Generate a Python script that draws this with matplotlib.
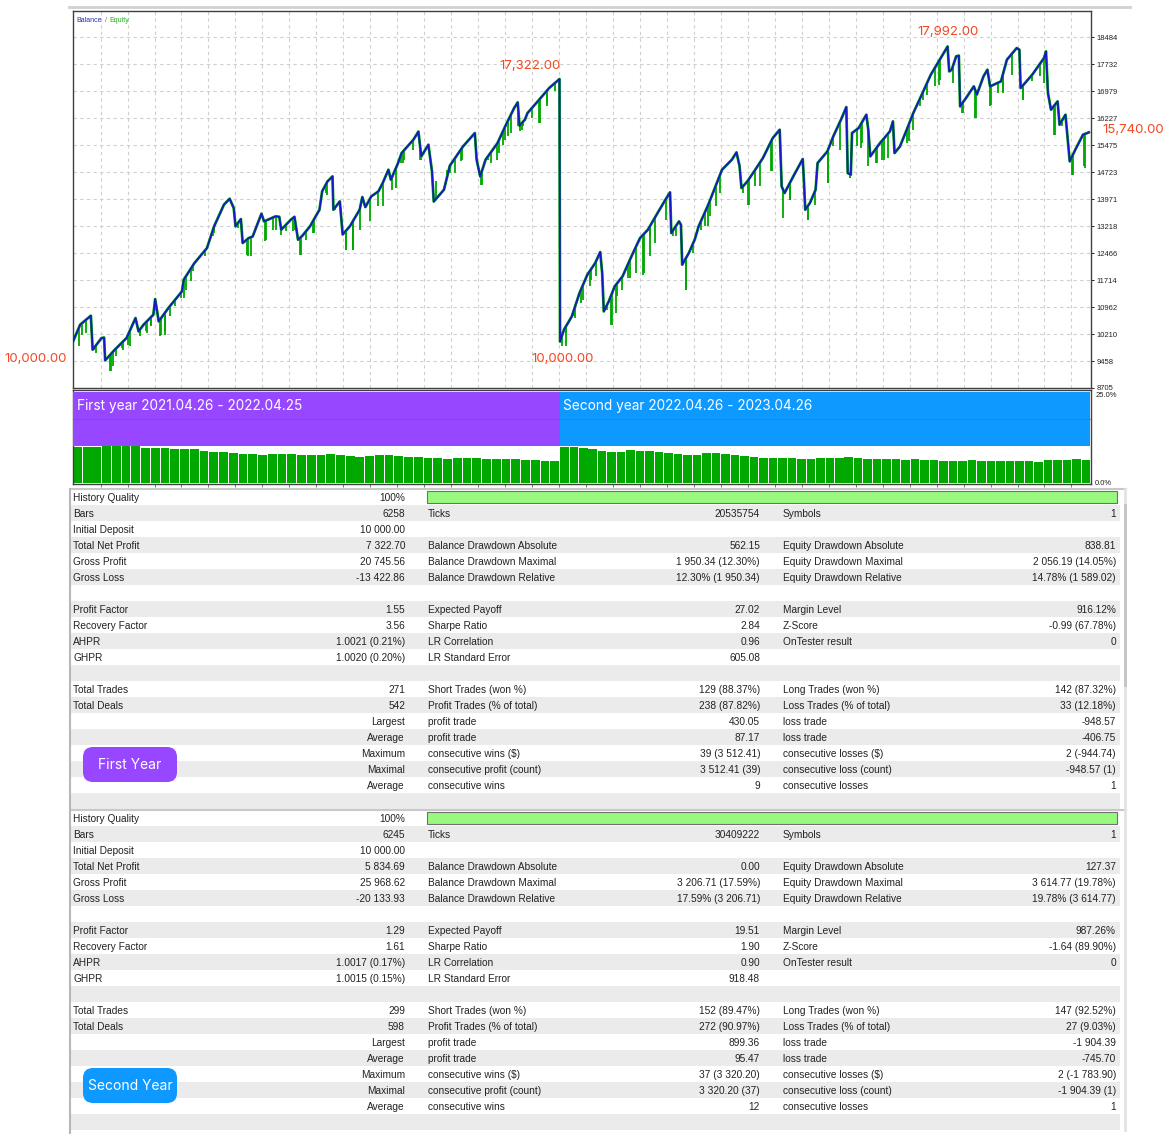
import numpy as np
import matplotlib.pyplot as plt
from matplotlib.patches import Rectangle, FancyBboxPatch

W, H = 1172, 1138

# balance curve: x = trade number, y = balance
bal_t = [0, 4, 8.5, 10, 11, 16, 17.4, 18, 23.4, 30, 35, 36.7, 39.5, 45, 46, 48, 53.4, 61, 62, 68,
         75, 79, 84.5, 87.7, 90, 91, 94, 95, 98.4, 100.6, 105.5, 107, 113.4, 115.5, 116.6, 122, 124,
         126, 128.4, 132.7, 138, 139.5, 142.5, 145.3, 145.8, 149.4, 151, 155, 160.5, 162, 163.7, 167,
         171, 173.4, 176.6, 178, 182, 184, 190.6, 193.4, 195, 199, 201, 202, 207.7, 211, 218.4, 225,
         226, 228, 231, 237.7, 242, 247, 249, 250, 253, 254.5, 261, 266.6, 272.4,
         272.7, 274.9, 279.3, 283.6, 288, 292.4, 295.2, 296.3, 297.2, 300, 303.3, 307.7, 313.1, 317.5,
         321.9, 327.3, 331.7, 334.3, 335, 339.3, 340.4, 341.1, 344.8, 348.1, 350.3, 355.7, 359, 363.4,
         368.9, 371.5, 373.2, 374.3, 377.6, 382, 386.3, 391.8, 395.7, 396.8, 398.4, 403.8, 408.6, 409.3,
         410, 412.6, 415.8, 416.9, 422.4, 425.7, 430, 433, 433.8, 435.5, 436.2, 439.9, 444.2, 445.3,
         446.4, 451.9, 457.4, 459.1, 460, 463, 467.2, 470.5, 474.8, 480.3, 486.9, 489.7, 490.6, 492,
         494.5, 496, 496.7, 500, 504.4, 506.1, 509.8, 512, 513.5, 519.6, 522.9, 528.4, 529.9, 530.6,
         537.1, 543.7, 544.8, 545.9, 547.6, 551.3, 552.4, 555.7, 556.8, 558.1, 561.2, 565.5, 568.8]
bal_v = [10000, 10470, 10656, 10721, 9773, 10100, 10110, 9475, 9773, 10100, 10656, 10284, 10470, 10749,
         11186, 10563, 10935, 11400, 11725, 12190, 12608, 13213, 13817, 13984, 13724, 13213, 13417, 12748,
         12887, 12930, 13566, 13352, 13492, 13480, 13120, 13399, 13480, 12841, 12950, 13213, 13678, 14189,
         14467, 14607, 13678, 13910, 12987, 13213, 13678, 14031, 13750, 14049, 14189, 14421, 14793, 14514,
         14979, 15258, 15630, 15856, 15165, 15490, 14747, 13906, 14235, 14905, 15444, 15816, 15072, 14607,
         15072, 15537, 16002, 16513, 16671, 16020, 16188, 16374, 16745, 17071, 17322,
         10000, 10331, 10702, 11353, 11865, 12190, 12497, 11911, 10842, 11121, 11539, 11818, 12422, 12887,
         13120, 13585, 13956, 14161, 13027, 13352, 13260, 12144, 12469, 12841, 13213, 13817, 14235, 14793,
         15072, 15277, 14900, 14282, 14468, 14793, 15119, 15676, 15909, 14328, 14142, 14654, 15091, 14440,
         13677, 13863, 14235, 14979, 15305, 15723, 16188, 16541, 14700, 14654, 15816, 15955, 16327, 15909,
         15165, 15537, 15862, 16141, 15258, 15440, 15955, 16374, 16838, 17443, 17999, 18230, 17536, 17580,
         17955, 17975, 16560, 16792, 17118, 16890, 17397, 17583, 17118, 17257, 17861, 18186, 18140, 17071,
         17443, 17908, 18093, 16931, 16467, 16699, 16048, 16327, 15723, 15026, 15351, 15769, 15835]

# lowest equity at the drawdown spikes
dip_t = [3.1, 5.2, 7.3, 12.1, 12.7, 20.6, 21.5, 22.3, 24.3, 27.7, 28, 30.8, 32, 37.3, 37.4, 40.7, 41.2,
         43.8, 43.9, 48.9, 49.1, 51.3, 51.7, 54.1, 56.9, 60.7, 62.4, 63.5, 66.3, 67.3, 73.7, 78.4, 79.1,
         83.1, 90.9, 92.4, 97.3, 98, 99.9, 107.6, 108.2, 112, 113.4, 116.6, 119.4, 123.2, 124.5, 127.3,
         127.5, 130.6, 134.4, 134.8, 139, 141.8, 142.3, 146.5, 149.8, 152.6, 152.7, 156.7, 156.8, 160.5,
         166.1, 170.8, 173.4, 178.8, 181, 183.7, 184.8, 185.4, 190.5, 194.3, 194.8, 200.8, 203.4, 203.6,
         209.2, 211.3, 212.9, 214.1, 217.3, 217.6, 228.7, 228.8, 232.6, 234, 237.2, 238.3, 241, 242,
         243.8, 245.2, 249.4, 250.1, 251.6, 252.2, 256.9, 261.2, 261.5, 265.3, 265.5, 269.9,
         273.6, 276, 276.3, 280.3, 281, 284.7, 285.8, 289.4, 290.2, 293.1, 297.2, 298.9, 301.5, 301.8,
         304.3, 304.4, 307.6, 311, 311.7, 315.4, 319.3, 319.7, 322.9, 323, 325.7, 332.2, 336.1, 337.8,
         343.1, 343.4, 347.1, 351.4, 353.6, 355.7, 356.5, 360.1, 362.1, 375.3, 378.1, 378.7, 382, 384.7,
         390.7, 391.2, 397.3, 401.4, 401.6, 411.5, 411.7, 415.4, 422.8, 422.9, 425.7, 429.4, 434.8, 435,
         438.8, 441, 441.6, 445.3, 449.7, 450, 452.8, 454.1, 456.5, 460.6, 461.2, 466.8, 468.3, 470.5,
         474.3, 475.9, 478, 482.7, 484.7, 485.5, 493, 497.8, 498.6, 505.1, 505.4, 513.5, 514.2, 518.2,
         520.7, 521, 525.7, 531.7, 532.2, 536.9, 541.6, 543.7, 549.1, 550, 553.8, 559.4, 559.8, 565.9,
         566.6]
dip_v = [9866, 10192, 10237, 9775, 9680, 9168, 9170, 9308, 9590, 9820, 9776, 9915, 9866, 10194, 10144,
         10286, 10237, 10424, 10472, 10147, 10190, 10286, 10190, 10704, 10983, 11215, 11214, 11447, 11680,
         11957, 12377, 12935, 13027, 13585, 13399, 13167, 12422, 12377, 12376, 12794, 12842, 13121, 13120,
         12980, 13074, 13074, 13120, 12422, 12423, 12841, 13028, 13027, 13864, 14143, 14096, 13678, 13399,
         12562, 12563, 12562, 12563, 13120, 13352, 13772, 13770, 14235, 14282, 14980, 14980, 15072, 15352,
         15073, 15072, 14562, 14468, 14050, 14794, 14700, 14980, 14700, 15026, 15073, 14375, 14376, 15073,
         14979, 15073, 15258, 15492, 15630, 15724, 15816, 16002, 15862, 15909, 16002, 16235, 16095, 16095,
         16653, 16560, 16978,
         9866, 9866, 10238, 10702, 10656, 11074, 11167, 11539, 11725, 11818, 10842, 10888, 10470, 10470,
         10795, 11260, 11446, 11772, 11772, 11911, 11865, 11911, 12376, 12934, 12748, 13399, 12934, 12934,
         11446, 11446, 12469, 13120, 13213, 13213, 13492, 13771, 14143, 14143, 13817, 13817, 14328, 14329,
         14747, 14747, 13445, 13957, 13956, 13399, 13399, 13817, 14421, 14422, 15444, 15352, 14561, 14561,
         15445, 15397, 15538, 14886, 14979, 14980, 15073, 15072, 15119, 15305, 15352, 15538, 15584, 15910,
         16560, 16745, 16885, 17118, 17164, 17304, 17211, 16374, 16374, 16234, 16234, 16560, 16606, 16932,
         16978, 16932, 17443, 16745, 16746, 17257, 17397, 17210, 15769, 15770, 16002, 14654, 14654, 14887,
         14840]

y_ticks = [8705, 9458, 10210, 10962, 11714, 12466, 13218, 13971, 14723, 15475, 16227, 16979, 17732, 18484]
split_trade = 272.7
n_trades = 570

# deposit load histogram (%)
load_y1 = [10.1, 10.3, 10.2, 10.4, 10.5, 10.5, 10.4, 10.0, 9.9, 9.8, 9.6, 9.7, 9.5, 9.2, 8.9, 8.7, 8.6,
           8.3, 8.1, 7.9, 8.1, 8.2, 8.1, 7.9, 7.9, 8.0, 8.1, 7.9, 7.7, 7.5, 7.6, 7.9, 7.8, 7.6, 7.4, 7.3,
           7.2, 7.0, 6.9, 7.1, 7.2, 7.0, 6.8, 6.8, 6.9, 6.7, 6.5, 6.4, 6.3, 6.2]
load_y2 = [10.3, 10.1, 9.9, 9.6, 9.0, 8.8, 8.9, 9.4, 9.2, 9.0, 8.8, 8.4, 8.1, 7.9, 7.8, 8.4, 8.5, 8.2,
           7.8, 7.6, 7.3, 7.1, 7.2, 7.1, 7.0, 6.9, 6.9, 7.2, 7.1, 7.0, 7.3, 7.0, 6.8, 6.7, 6.7, 6.9, 6.6,
           6.7, 6.6, 6.5, 6.3, 6.3, 6.2, 6.4, 6.1, 6.3, 6.2, 6.1, 6.3, 6.2, 6.0, 6.4, 6.5, 6.6, 6.7, 6.6]

col1_labels = ['History Quality', 'Bars', 'Initial Deposit', 'Total Net Profit', 'Gross Profit', 'Gross Loss', '',
               'Profit Factor', 'Recovery Factor', 'AHPR', 'GHPR', '',
               'Total Trades', 'Total Deals', '', '', '', '', '', '']
sub_labels = [''] * 14 + ['Largest', 'Average', 'Maximum', 'Maximal', 'Average', '']
col2_labels = ['', 'Ticks', '', 'Balance Drawdown Absolute', 'Balance Drawdown Maximal', 'Balance Drawdown Relative', '',
               'Expected Payoff', 'Sharpe Ratio', 'LR Correlation', 'LR Standard Error', '',
               'Short Trades (won %)', 'Profit Trades (% of total)', 'profit trade', 'profit trade',
               'consecutive wins ($)', 'consecutive profit (count)', 'consecutive wins', '']
col3_labels = ['', 'Symbols', '', 'Equity Drawdown Absolute', 'Equity Drawdown Maximal', 'Equity Drawdown Relative', '',
               'Margin Level', 'Z-Score', 'OnTester result', '', '',
               'Long Trades (won %)', 'Loss Trades (% of total)', 'loss trade', 'loss trade',
               'consecutive losses ($)', 'consecutive loss (count)', 'consecutive losses', '']

y1_col1 = ['100%', '6258', '10 000.00', '7 322.70', '20 745.56', '-13 422.86', '', '1.55', '3.56',
           '1.0021 (0.21%)', '1.0020 (0.20%)', '', '271', '542', '', '', '', '', '', '']
y1_col2 = ['', '20535754', '', '562.15', '1 950.34 (12.30%)', '12.30% (1 950.34)', '', '27.02', '2.84', '0.96',
           '605.08', '', '129 (88.37%)', '238 (87.82%)', '430.05', '87.17', '39 (3 512.41)', '3 512.41 (39)', '9', '']
y1_col3 = ['', '1', '', '838.81', '2 056.19 (14.05%)', '14.78% (1 589.02)', '', '916.12%', '-0.99 (67.78%)', '0',
           '', '', '142 (87.32%)', '33 (12.18%)', '-948.57', '-406.75', '2 (-944.74)', '-948.57 (1)', '1', '']

y2_col1 = ['100%', '6245', '10 000.00', '5 834.69', '25 968.62', '-20 133.93', '', '1.29', '1.61',
           '1.0017 (0.17%)', '1.0015 (0.15%)', '', '299', '598', '', '', '', '', '', '']
y2_col2 = ['', '30409222', '', '0.00', '3 206.71 (17.59%)', '17.59% (3 206.71)', '', '19.51', '1.90', '0.90',
           '918.48', '', '152 (89.47%)', '272 (90.97%)', '899.36', '95.47', '37 (3 320.20)', '3 320.20 (37)', '12', '']
y2_col3 = ['', '1', '', '127.37', '3 614.77 (19.78%)', '19.78% (3 614.77)', '', '987.26%', '-1.64 (89.90%)', '0',
           '', '', '147 (92.52%)', '27 (9.03%)', '-1 904.39', '-745.70', '2 (-1 783.90)', '-1 904.39 (1)', '1', '']

PURPLE = '#9747ff'
BLUE = '#0d99ff'
RED = '#f24822'
GREEN = '#00a800'
NAVY = '#1818c4'
TFONT = ['Liberation Sans', 'DejaVu Sans']
LFONT = ['Inter', 'DejaVu Sans']


def rect(x0, y0, x1, y1):
    return [x0 / W, 1 - y1 / H, (x1 - x0) / W, (y1 - y0) / H]


def ftext(x, y, s, **kw):
    fig.text(x / W, 1 - y / H, s, **kw)


fig = plt.figure(figsize=(W / 100, H / 100), dpi=100)

# background canvas with dot grid
bg = fig.add_axes([0, 0, 1, 1])
bg.set_xlim(0, W)
bg.set_ylim(H, 0)
bg.axis('off')
gx, gy = np.meshgrid(np.arange(7.5, W, 9.6), np.arange(4, H, 9.6))
bg.scatter(gx.ravel(), gy.ravel(), s=0.5, marker='s', color='#c8c8c8', linewidths=0)
bg.add_patch(Rectangle((69, 6), 1061, 1127, fc='white', ec='none', zorder=2))
bg.plot([69, 1130], [6.5, 6.5], color='#d0d0d0', lw=2, zorder=3)


def draw_table(top, c1, c2, c3, name, color):
    for i in range(20):
        y = top + 16 * i
        bg.add_patch(Rectangle((70, y), 1050, 16, fc='#ebebeb' if i % 2 else 'white', ec='none', zorder=3))
        yc = y + 8.5
        kw = dict(fontsize=7.3, family=TFONT, color='#222222', va='center', zorder=5)
        bg.text(73, yc, col1_labels[i], **kw)
        bg.text(405, yc, c1[i] or sub_labels[i], ha='right', **kw)
        bg.text(428, yc, col2_labels[i], **kw)
        bg.text(760, yc, c2[i], ha='right', **kw)
        bg.text(783, yc, col3_labels[i], **kw)
        bg.text(1116, yc, c3[i], ha='right', **kw)
    bg.add_patch(Rectangle((427, top + 1.5), 690, 12, fc='#98f97e', ec='#707070', lw=0.8, zorder=4))
    bg.plot([70, 1126], [top, top], color='#c8c8c8', lw=1.5, zorder=4)
    bg.plot([1125, 1125], [top, top + 320], color='#e2e2e2', lw=2, zorder=4)
    bg.add_patch(FancyBboxPatch((83, top + 258), 94, 35, boxstyle='round,pad=0,rounding_size=10',
                                fc=color, ec='none', zorder=6))
    bg.text(130, top + 276, name, color='white', fontsize=10, family=LFONT, ha='center', va='center', zorder=7)


draw_table(489, y1_col1, y1_col2, y1_col3, 'First Year', PURPLE)
draw_table(810, y2_col1, y2_col2, y2_col3, 'Second Year', BLUE)
bg.plot([1125, 1125], [505, 685], color='#c4c4c4', lw=2, zorder=5)
bg.plot([70, 70], [489, 1133], color='#b8b8b8', lw=1.5, zorder=5)

grid_x = np.arange(15.45, n_trades, 15.1)

# balance / equity chart
ax = fig.add_axes(rect(73, 11, 1091, 388))
ax.set_xlim(0, n_trades)
ax.set_ylim(8705, 19220)
ax.plot(bal_t, bal_v, color=GREEN, lw=2.0, zorder=2)
ax.vlines(dip_t, dip_v, np.interp(dip_t, bal_t, bal_v), color=GREEN, lw=1.3, zorder=2)
ax.plot(bal_t, bal_v, color=NAVY, lw=1.3, zorder=3)
ax.yaxis.tick_right()
ax.set_yticks(y_ticks)
ax.set_yticklabels([str(v) for v in y_ticks], fontsize=5.5, family=TFONT, color='#222222')
ax.tick_params(axis='y', length=2, pad=2, width=0.6)
ax.set_xticks(grid_x)
ax.tick_params(axis='x', length=0, labelbottom=False)
ax.grid(True, color='#cfcfcf', ls=(0, (3, 3)), lw=0.8)
ax.set_axisbelow(True)
for s in ax.spines.values():
    s.set_color('#404040')
    s.set_linewidth(1)

ax.text(0.003, 0.985, 'Balance', transform=ax.transAxes, fontsize=5, family=TFONT, color='#2a2ab0', va='top')
ax.text(0.031, 0.985, '/', transform=ax.transAxes, fontsize=5, family=TFONT, color='#666666', va='top')
ax.text(0.036, 0.985, 'Equity', transform=ax.transAxes, fontsize=5, family=TFONT, color='#22b022', va='top')

# deposit load panel
pax = fig.add_axes(rect(73, 390, 1091, 484))
pax.set_xlim(0, n_trades)
pax.set_ylim(-0.3, 26.4)
step1 = split_trade / len(load_y1)
step2 = (n_trades - split_trade) / len(load_y2)
pax.bar(np.arange(len(load_y1)) * step1, load_y1, width=step1 * 0.9, align='edge', color=GREEN, zorder=2)
pax.bar(split_trade + np.arange(len(load_y2)) * step2, load_y2, width=step2 * 0.9, align='edge',
        color=GREEN, zorder=2)
pax.add_patch(Rectangle((0, 10.6), split_trade, 15.2, fc=PURPLE, ec='none', zorder=3))
pax.add_patch(Rectangle((split_trade, 10.6), n_trades - split_trade - 0.6, 15.2, fc=BLUE, ec='none', zorder=3))
pax.plot([0, split_trade], [18.2, 18.2], color='#8a3cf0', lw=0.6, zorder=4)
pax.plot([split_trade, n_trades - 0.6], [18.2, 18.2], color='#0b8de8', lw=0.6, zorder=4)
pax.yaxis.tick_right()
pax.set_yticks([0, 25])
pax.set_yticklabels(['0.0%', '25.0%'], fontsize=5.5, family=TFONT, color='#222222')
pax.tick_params(axis='y', length=0, pad=3)
pax.set_xticks(grid_x)
pax.tick_params(axis='x', length=2, width=0.6, labelbottom=False, color='#606060')
for s in pax.spines.values():
    s.set_color('#404040')
    s.set_linewidth(1)

ftext(77, 406, 'First year 2021.04.26 - 2022.04.25', color='white', fontsize=9.8, family=LFONT, va='center')
ftext(563, 406, 'Second year 2022.04.26 - 2023.04.26', color='white', fontsize=9.8, family=LFONT, va='center')

# value callouts
lab = dict(color=RED, fontsize=9.5, family=LFONT, va='center')
ftext(4, 359, '10,000.00', **lab)
ftext(561, 66, '17,322.00', ha='right', **lab)
ftext(531, 359, '10,000.00', **lab)
ftext(917, 32, '17,992.00', **lab)
ftext(1102, 130, '15,740.00', **lab)

fig.savefig('out.png', dpi=100)
